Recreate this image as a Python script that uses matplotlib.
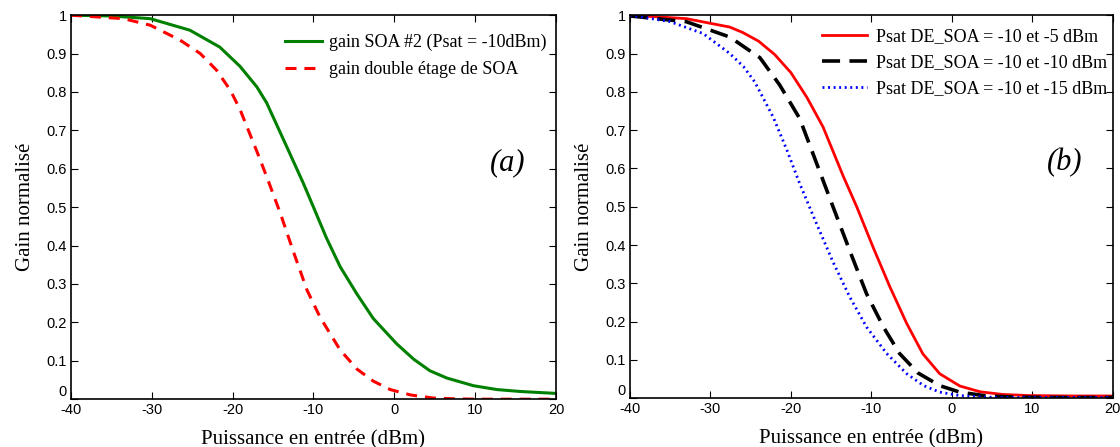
import matplotlib.pyplot as plt

plt.rcParams['axes.unicode_minus'] = False

# Courbes (a)
x_soa2 = [-40, -35, -30.2, -25.3, -21.6, -19.1, -17.0, -15.8, -13.3, -11.25, -10.0, -8.4,
          -6.7, -4.6, -2.6, 0.3, 2.4, 4.4, 6.5, 9.8, 12.7, 15.6, 20]
g_soa2 = [1.0, 0.998, 0.991, 0.961, 0.917, 0.867, 0.813, 0.772, 0.657, 0.562, 0.500, 0.420,
          0.345, 0.273, 0.210, 0.144, 0.104, 0.074, 0.055, 0.035, 0.025, 0.020, 0.015]

x_double = [-40, -33.5, -30.2, -26.5, -24.0, -22.0, -20.3, -19.1, -17.0, -15.8, -14.1, -12.5,
            -10.8, -9.2, -6.7, -4.6, -2.6, -0.5, 2.0, 4.8, 7.3, 10, 15, 20]
g_double = [1.0, 0.991, 0.974, 0.935, 0.900, 0.857, 0.805, 0.755, 0.645, 0.580, 0.484, 0.385,
            0.284, 0.214, 0.128, 0.078, 0.047, 0.025, 0.011, 0.003, 0.001, 0.0, 0.0, 0.0]

# Courbes (b)
x_m5 = [-40, -33.0, -27.6, -26.0, -24.0, -22.0, -20.0, -18.0, -16.0, -13.5, -11.8, -9.8, -7.7,
        -5.6, -3.6, -1.5, 1.0, 3.5, 6.3, 9.7, 15, 20]
g_m5 = [1.0, 0.991, 0.969, 0.955, 0.932, 0.897, 0.850, 0.785, 0.708, 0.580, 0.499, 0.395, 0.291,
        0.195, 0.116, 0.064, 0.032, 0.017, 0.010, 0.007, 0.006, 0.006]

x_m10 = [-40, -33.0, -27.6, -23.85, -21.4, -18.9, -16.8, -14.75, -12.7, -10.6, -8.5,
         -6.5, -4.2, -1.5, 1.0, 4.3, 8, 14, 20]
g_m10 = [0.998, 0.983, 0.943, 0.889, 0.818, 0.730, 0.613, 0.499, 0.386, 0.273, 0.186,
         0.117, 0.066, 0.033, 0.016, 0.006, 0.003, 0.002, 0.002]

x_m15 = [-40, -35.0, -30.9, -27.6, -25.9, -24.5, -22.2, -20.5, -18.9, -16.8, -14.75, -12.7,
         -10.6, -8.1, -5.6, -3.5, -1.5, 1.0, 4, 8, 14, 20]
g_m15 = [1.0, 0.983, 0.952, 0.900, 0.866, 0.826, 0.734, 0.648, 0.560, 0.455, 0.355, 0.265,
         0.186, 0.117, 0.064, 0.033, 0.016, 0.007, 0.003, 0.002, 0.002, 0.002]

xticks = [-40, -30, -20, -10, 0, 10, 20]
yticks = [0, 0.1, 0.2, 0.3, 0.4, 0.5, 0.6, 0.7, 0.8, 0.9, 1]
ytick_labels = ['0', '0.1', '0.2', '0.3', '0.4', '0.5', '0.6', '0.7', '0.8', '0.9', '1']

serif = 'Liberation Serif'
sans = 'Liberation Sans'

fig = plt.figure(figsize=(11.2, 4.47), dpi=100)
ax1 = fig.add_axes([0.0634, 0.107, 0.433, 0.859])
ax2 = fig.add_axes([0.5625, 0.109, 0.431, 0.857])

ax1.plot(x_soa2, g_soa2, color='#008000', lw=2.2, label='gain SOA #2 (Psat = -10dBm)')
ax1.plot(x_double, g_double, color='#ff0000', lw=2.2, dashes=(3.6, 2.6),
         label='gain double étage de SOA')

ax2.plot(x_m5, g_m5, color='#ff0000', lw=2.0, label='Psat DE_SOA = -10 et -5 dBm')
ax2.plot(x_m10, g_m10, color='black', lw=2.6, dashes=(5, 2.6),
         label='Psat DE_SOA = -10 et -10 dBm')
ax2.plot(x_m15, g_m15, color='#0000ff', lw=2.0, dashes=(0.7, 1.3),
         label='Psat DE_SOA = -10 et -15 dBm')

for ax, tag in [(ax1, '(a)'), (ax2, '(b)')]:
    ax.set_xlim(-40, 20)
    ax.set_ylim(0, 1)
    ax.set_xticks(xticks)
    ax.set_yticks(yticks)
    ax.set_yticklabels(ytick_labels)
    ax.tick_params(direction='in', top=True, right=True, length=5, width=0.8,
                   labelsize=10.5, pad=3)
    for lab in ax.get_xticklabels() + ax.get_yticklabels():
        lab.set_fontfamily(sans)
    # le "0" de l'axe y est remonté pour ne pas chevaucher "-40"
    ax.get_yticklabels()[0].set_verticalalignment('bottom')
    for sp in ax.spines.values():
        sp.set_linewidth(1.2)
    ax.set_xlabel('Puissance en entrée (dBm)', fontfamily=serif, fontsize=15, labelpad=9)
    ax.set_ylabel('Gain normalisé', fontfamily=serif, fontsize=15, labelpad=8)
    ax.text(14.0, 0.615, tag, fontfamily=serif, fontstyle='italic', fontsize=22,
            ha='center', va='center')

ax1.legend(loc='upper right', bbox_to_anchor=(1.006, 0.985), frameon=False,
           prop={'family': serif, 'size': 13}, handlelength=2.0, handletextpad=0.4,
           labelspacing=0.55, borderaxespad=0.3)
ax2.legend(loc='upper right', bbox_to_anchor=(1.014, 1.0), frameon=False,
           prop={'family': serif, 'size': 13}, handlelength=2.5, handletextpad=0.45,
           labelspacing=0.5, borderaxespad=0.3)

fig.savefig('out.png', dpi=100)
